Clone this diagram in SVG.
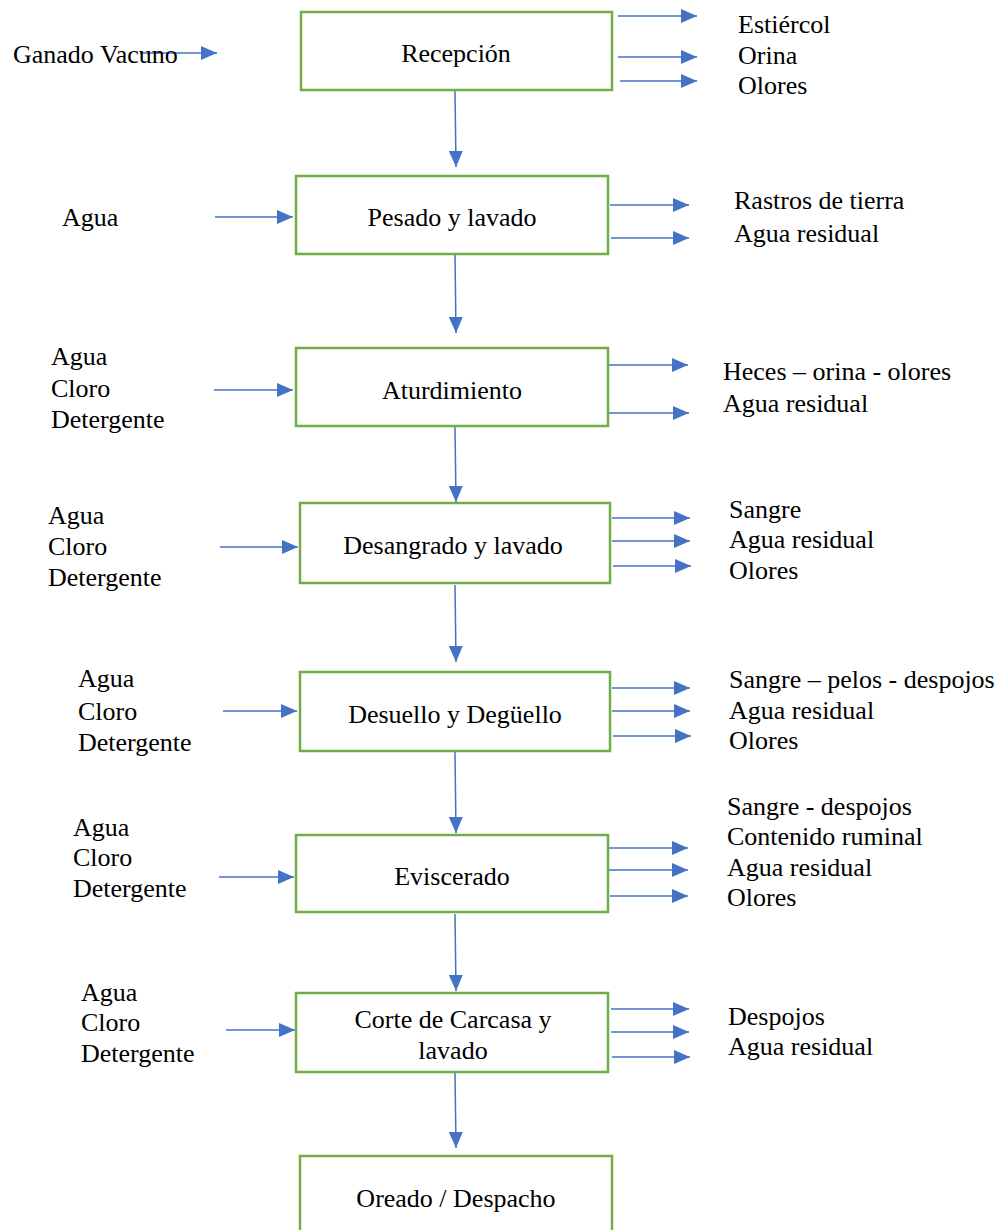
<svg xmlns="http://www.w3.org/2000/svg" width="1006" height="1230" viewBox="0 0 1006 1230">
<style>
.box{fill:#fff;stroke:#70AD47;stroke-width:2.5}
.t{font-family:"Liberation Serif","Times New Roman",serif;font-size:26px;fill:#000}
.c{text-anchor:middle}
.a{stroke:#4472C4;stroke-width:1.5;fill:none;marker-end:url(#ah)}
</style>
<defs>
<marker id="ah" markerWidth="16" markerHeight="14" refX="16" refY="7" orient="auto" markerUnits="userSpaceOnUse">
<path d="M0,0 L16,7 L0,14 z" fill="#4472C4"/>
</marker>
</defs>
<rect width="1006" height="1230" fill="#fff"/>
<g id="connectors">
<line class="a" x1="140" y1="53" x2="217" y2="53"/>
<line class="a" x1="618" y1="16" x2="697" y2="16"/>
<line class="a" x1="618" y1="57" x2="697" y2="57"/>
<line class="a" x1="620" y1="81" x2="697" y2="81"/>
<line class="a" x1="455" y1="91" x2="456" y2="167"/>
<line class="a" x1="215" y1="217" x2="293" y2="217"/>
<line class="a" x1="610" y1="205" x2="689" y2="205"/>
<line class="a" x1="611" y1="238" x2="689" y2="238"/>
<line class="a" x1="455" y1="255" x2="456" y2="333"/>
<line class="a" x1="214" y1="390" x2="293" y2="390"/>
<line class="a" x1="609" y1="365" x2="688" y2="365"/>
<line class="a" x1="609" y1="413" x2="689" y2="413"/>
<line class="a" x1="455" y1="427" x2="456" y2="502"/>
<line class="a" x1="220" y1="547" x2="298" y2="547"/>
<line class="a" x1="612" y1="518" x2="690" y2="518"/>
<line class="a" x1="612" y1="541" x2="690" y2="541"/>
<line class="a" x1="613" y1="566" x2="691" y2="566"/>
<line class="a" x1="455" y1="585" x2="456" y2="662"/>
<line class="a" x1="223" y1="711" x2="297" y2="711"/>
<line class="a" x1="612" y1="688" x2="690" y2="688"/>
<line class="a" x1="612" y1="711" x2="690" y2="711"/>
<line class="a" x1="613" y1="736" x2="691" y2="736"/>
<line class="a" x1="455" y1="752" x2="456" y2="833"/>
<line class="a" x1="219" y1="877" x2="294" y2="877"/>
<line class="a" x1="608" y1="848" x2="688" y2="848"/>
<line class="a" x1="608" y1="870" x2="688" y2="870"/>
<line class="a" x1="610" y1="896" x2="688" y2="896"/>
<line class="a" x1="455" y1="914" x2="456" y2="991"/>
<line class="a" x1="226" y1="1030" x2="295" y2="1030"/>
<line class="a" x1="611" y1="1009" x2="689" y2="1009"/>
<line class="a" x1="611" y1="1032" x2="689" y2="1032"/>
<line class="a" x1="612" y1="1057" x2="690" y2="1057"/>
<line class="a" x1="455" y1="1073" x2="456" y2="1148"/>
</g>
<g id="recepcion"><rect class="box" x="301" y="12" width="311" height="78"/><text class="t c" x="456" y="62">Recepción</text></g>
<g id="pesado"><rect class="box" x="296" y="176" width="312" height="78"/><text class="t c" x="452" y="226">Pesado y lavado</text></g>
<g id="aturdimiento"><rect class="box" x="296" y="348" width="312" height="78"/><text class="t c" x="452" y="399">Aturdimiento</text></g>
<g id="desangrado"><rect class="box" x="300" y="503" width="310" height="80"/><text class="t c" x="453" y="554">Desangrado y lavado</text></g>
<g id="desuello"><rect class="box" x="300" y="672" width="310" height="79"/><text class="t c" x="455" y="723">Desuello y Degüello</text></g>
<g id="eviscerado"><rect class="box" x="296" y="835" width="312" height="77"/><text class="t c" x="452" y="885">Eviscerado</text></g>
<g id="corte"><rect class="box" x="296" y="993" width="312" height="79"/><text class="t c" x="453" y="1028">Corte de Carcasa y</text><text class="t c" x="453" y="1059">lavado</text></g>
<g id="oreado"><rect class="box" x="300" y="1156" width="312" height="90"/><text class="t c" x="456" y="1207">Oreado / Despacho</text></g>
<g id="inputs">
<text class="t" x="13" y="63">Ganado Vacuno</text>
<text class="t" x="62" y="226">Agua</text>
<text class="t" x="51"><tspan x="51" y="365">Agua</tspan><tspan x="51" y="397">Cloro</tspan><tspan x="51" y="428">Detergente</tspan></text>
<text class="t" x="48"><tspan x="48" y="524">Agua</tspan><tspan x="48" y="555">Cloro</tspan><tspan x="48" y="586">Detergente</tspan></text>
<text class="t" x="78"><tspan x="78" y="687">Agua</tspan><tspan x="78" y="720">Cloro</tspan><tspan x="78" y="751">Detergente</tspan></text>
<text class="t" x="73"><tspan x="73" y="836">Agua</tspan><tspan x="73" y="866">Cloro</tspan><tspan x="73" y="897">Detergente</tspan></text>
<text class="t" x="81"><tspan x="81" y="1001">Agua</tspan><tspan x="81" y="1031">Cloro</tspan><tspan x="81" y="1062">Detergente</tspan></text>
</g>
<g id="outputs">
<text class="t"><tspan x="738" y="33">Estiércol</tspan><tspan x="738" y="64">Orina</tspan><tspan x="738" y="94">Olores</tspan></text>
<text class="t"><tspan x="734" y="209">Rastros de tierra</tspan><tspan x="734" y="242">Agua residual</tspan></text>
<text class="t"><tspan x="723" y="380">Heces – orina - olores</tspan><tspan x="723" y="412">Agua residual</tspan></text>
<text class="t"><tspan x="729" y="518">Sangre</tspan><tspan x="729" y="548">Agua residual</tspan><tspan x="729" y="579">Olores</tspan></text>
<text class="t"><tspan x="729" y="688">Sangre – pelos - despojos</tspan><tspan x="729" y="719">Agua residual</tspan><tspan x="729" y="749">Olores</tspan></text>
<text class="t"><tspan x="727" y="815">Sangre - despojos</tspan><tspan x="727" y="845">Contenido ruminal</tspan><tspan x="727" y="876">Agua residual</tspan><tspan x="727" y="906">Olores</tspan></text>
<text class="t"><tspan x="728" y="1025">Despojos</tspan><tspan x="728" y="1055">Agua residual</tspan></text>
</g>
</svg>
